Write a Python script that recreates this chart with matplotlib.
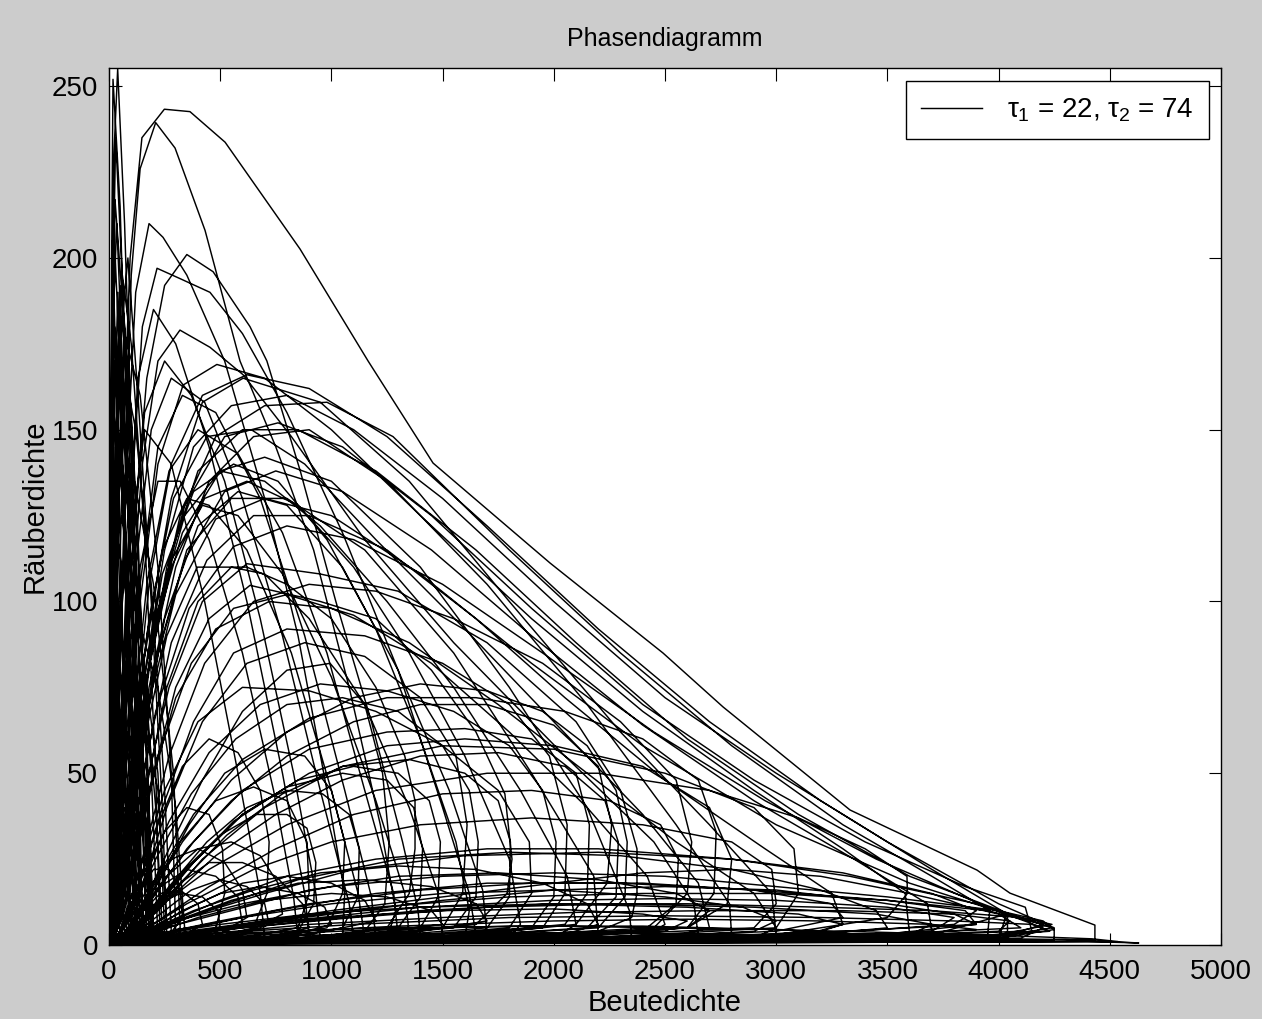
#!/usr/bin/env python3
"""Phasendiagramm: Beutedichte vs. Räuberdichte (tau1 = 22, tau2 = 74)."""
import numpy as np
import matplotlib
matplotlib.use('Agg')
import matplotlib.pyplot as plt

# ── data: loops of the trajectory (x = Beute, y = Räuber) ──
SPIKES = [
    [(5, 0.3), (60, 0.5), (150, 1), (200, 2), (170, 30), (130, 90), (100, 150), (70, 210), (39, 255), (22, 230), (12, 150), (8, 60), (5, 8)],
    [(5, 0.3), (90, 0.6), (150, 1.5), (140, 25), (110, 80), (80, 150), (50, 215), (18, 252), (12, 200), (8, 120), (5, 40), (4, 5)],
    [(5, 0.4), (120, 0.8), (170, 3), (150, 40), (110, 110), (70, 180), (30, 235), (20, 200), (12, 130), (8, 50), (5, 6)],
    [(5, 0.3), (100, 0.5), (180, 2), (160, 45), (120, 110), (80, 170), (27, 217), (18, 170), (10, 90), (6, 20)],
    [(6, 0.4), (150, 0.8), (260, 3), (240, 40), (190, 100), (130, 160), (85, 200), (50, 175), (30, 110), (18, 40), (8, 5)],
    [(5, 0.3), (120, 0.6), (230, 2), (210, 50), (160, 120), (100, 175), (60, 195), (35, 150), (20, 80), (10, 15)],
    [(5, 0.3), (80, 0.6), (150, 2), (140, 40), (100, 110), (45, 185), (30, 140), (15, 60), (7, 8)],
    [(6, 0.5), (180, 1), (300, 4), (280, 50), (220, 110), (140, 160), (70, 178), (45, 130), (25, 60), (10, 10)],
    [(5, 0.3), (70, 0.5), (120, 2), (100, 60), (60, 130), (25, 170), (15, 110), (8, 40), (5, 4)],
    [(5, 0.4), (130, 0.7), (200, 3), (170, 60), (110, 125), (55, 160), (35, 110), (18, 40), (7, 5)],
    [(5, 0.3), (140, 0.6), (220, 2), (190, 50), (120, 110), (40, 150), (28, 100), (15, 35), (6, 4)],
    [(7, 0.5), (200, 1), (320, 5), (290, 50), (200, 105), (100, 140), (60, 100), (30, 40), (10, 5)],
    [(5, 0.3), (50, 0.5), (90, 2), (70, 50), (40, 100), (20, 130), (12, 80), (6, 20)],
    [(5, 0.4), (110, 0.8), (180, 4), (150, 50), (80, 100), (35, 120), (20, 70), (8, 12)],
    [(6, 0.3), (150, 0.7), (250, 4), (220, 50), (130, 95), (60, 110), (35, 70), (15, 20), (6, 3)],
    [(5, 0.3), (40, 0.5), (70, 3), (50, 50), (15, 100), (10, 60), (5, 10)],
    [(6, 0.5), (120, 1), (200, 5), (170, 45), (100, 80), (50, 90), (30, 50), (12, 10)],
    [(7, 0.5), (160, 1), (260, 6), (220, 45), (140, 70), (80, 75), (45, 45), (18, 8)],
    [(5, 0.3), (60, 0.6), (120, 4), (90, 40), (30, 60), (18, 30), (7, 5)],
    [(5, 0.3), (30, 0.5), (50, 2), (35, 30), (20, 45), (10, 20), (5, 3)],
    [(6, 0.4), (100, 0.8), (160, 5), (130, 30), (50, 35), (25, 15), (8, 2)],
    [(5, 0.3), (70, 0.6), (110, 3), (80, 20), (25, 25), (12, 8)],
]

SPIKES_2 = [
    [(4, 0.2), (50, 0.4), (100, 1.5), (90, 30), (60, 90), (35, 160), (15, 205), (8, 150), (5, 70), (3, 10)],
    [(5, 0.3), (90, 0.5), (170, 2), (150, 35), (110, 95), (65, 150), (40, 190), (22, 150), (12, 80), (6, 15)],
    [(5, 0.3), (110, 0.6), (200, 3), (180, 40), (140, 100), (95, 160), (55, 192), (35, 165), (20, 100), (9, 25)],
    [(4, 0.2), (60, 0.4), (130, 2), (115, 40), (80, 110), (45, 165), (25, 180), (15, 120), (7, 40)],
    [(6, 0.4), (170, 0.8), (280, 4), (250, 45), (190, 105), (120, 150), (75, 165), (45, 130), (25, 60), (10, 8)],
    [(5, 0.3), (80, 0.5), (140, 2), (120, 45), (85, 100), (50, 140), (30, 145), (18, 90), (8, 20)],
    [(5, 0.3), (100, 0.6), (190, 3), (160, 40), (110, 90), (60, 125), (35, 118), (20, 60), (8, 10)],
    [(6, 0.4), (140, 0.8), (240, 4), (210, 40), (150, 85), (90, 115), (55, 105), (30, 55), (12, 10)],
    [(4, 0.2), (40, 0.4), (80, 2), (65, 40), (40, 85), (20, 105), (12, 60), (5, 10)],
    [(5, 0.3), (70, 0.5), (130, 3), (110, 35), (70, 70), (40, 85), (22, 55), (9, 12)],
    [(6, 0.4), (200, 1), (340, 5), (300, 40), (220, 75), (130, 95), (70, 85), (35, 40), (12, 6)],
    [(5, 0.3), (110, 0.6), (200, 4), (170, 35), (100, 60), (50, 65), (25, 35), (9, 5)],
    [(4, 0.2), (50, 0.4), (100, 2), (80, 25), (45, 50), (22, 50), (10, 20), (4, 3)],
    [(5, 0.3), (90, 0.6), (160, 4), (130, 25), (70, 40), (35, 35), (14, 10)],
    [(4, 0.2), (30, 0.3), (60, 1.5), (45, 60), (25, 120), (12, 140), (7, 80), (4, 15)],
    [(5, 0.3), (60, 0.5), (110, 2), (95, 50), (70, 120), (45, 175), (28, 200), (15, 170), (8, 90), (4, 15)],
    [(5, 0.3), (75, 0.5), (140, 2.5), (125, 50), (95, 115), (60, 170), (35, 210), (20, 185), (10, 100), (5, 20)],
    [(5, 0.3), (100, 0.6), (190, 3), (170, 50), (130, 120), (90, 165), (55, 182), (32, 150), (18, 80), (7, 12)],
]

ARCHES = [
    [(15, 0.5), (800, 0.8), (2000, 1.0), (3200, 1.2), (4100, 1.5), (4433, 1.5), (4433, 5.8), (4051, 15.1), (3903, 21.8), (3332, 39.3),
     (2761, 69.3), (2491, 85), (1983, 111.2), (1457, 140.3), (1165, 170), (859, 202.6), (522, 233.7), (364, 242.6), (249, 243.3),
     (148, 235), (95, 200), (60, 140), (35, 70), (20, 20), (12, 3)],
    [(15, 0.5), (400, 0.8), (900, 1.2), (1250, 2), (1290, 10), (1220, 35), (1080, 75), (920, 115), (750, 145), (589, 170), (432, 208),
     (297, 232), (210, 239.4), (140, 226), (100, 195), (70, 130), (40, 60), (20, 12)],
    [(12, 0.5), (300, 0.8), (800, 1.5), (1050, 3), (1060, 15), (980, 45), (850, 90), (700, 130), (520, 170), (350, 195), (243, 206),
     (180, 210), (120, 190), (80, 140), (50, 80), (25, 20)],
    [(15, 0.5), (700, 1), (1400, 2), (1390, 10), (1320, 30), (1180, 65), (1020, 100), (860, 138), (710, 170), (634, 180), (468, 196),
     (350, 201), (250, 192), (170, 165), (110, 120), (60, 60), (25, 10)],
    [(15, 0.4), (900, 1), (1650, 3), (1620, 15), (1500, 40), (1300, 80), (1050, 120), (800, 155), (600, 178), (454, 190), (319, 194),
     (216, 197), (150, 180), (100, 130), (60, 70), (28, 15)],
    [(12, 0.5), (1200, 1), (2650, 2.5), (2630, 12), (2450, 30), (2050, 55), (1550, 88), (1150, 118), (820, 148), (603, 166), (454, 174),
     (319, 179), (220, 170), (150, 140), (95, 95), (55, 45), (25, 8)],
    [(15, 0.5), (2000, 1), (4040, 2), (4040, 9), (3700, 22), (3200, 42), (2700, 65), (2200, 92), (1700, 122), (1250, 148), (900, 162),
     (620, 166), (420, 160), (280, 140), (180, 105), (110, 60), (60, 20), (25, 3)],
    [(15, 0.5), (2500, 1), (4250, 1.5), (4250, 5), (4000, 12), (3500, 30), (3000, 50), (2500, 72), (2000, 100), (1500, 130), (1100, 150),
     (800, 160), (550, 157), (380, 145), (250, 115), (150, 75), (80, 35), (30, 5)],
    [(15, 0.5), (1500, 1), (3000, 2), (3600, 3), (3580, 15), (3300, 28), (2900, 45), (2400, 68), (1900, 95), (1400, 125), (1000, 150),
     (700, 165), (485, 169), (333, 163), (220, 140), (140, 100), (80, 55), (35, 12)],
    [(15, 0.4), (2000, 1), (3950, 2), (3960, 10), (3700, 20), (3300, 35), (2800, 58), (2300, 85), (1800, 115), (1277, 148), (980, 158),
     (700, 157), (480, 148), (320, 125), (200, 90), (110, 45), (40, 8)],
    [(12, 0.5), (1600, 1.2), (3000, 3), (2980, 15), (2700, 35), (2300, 62), (1800, 100), (1350, 135), (950, 158), (603, 165), (420, 158),
     (280, 130), (170, 90), (90, 45), (35, 10)],
    [(15, 0.5), (1500, 1), (2800, 2.5), (2790, 12), (2550, 35), (2150, 70), (1700, 105), (1250, 135), (900, 150), (650, 148), (450, 135),
     (300, 110), (180, 75), (90, 35), (30, 5)],
    [(12, 0.4), (1200, 1), (2350, 2), (2340, 10), (2150, 40), (1800, 75), (1400, 110), (1000, 135), (700, 142), (500, 138), (330, 120),
     (200, 90), (110, 50), (40, 10)],
    [(15, 0.5), (1000, 1), (2200, 3), (2180, 20), (1900, 50), (1550, 85), (1150, 115), (800, 130), (550, 130), (350, 115), (220, 85),
     (120, 45), (45, 8)],
    [(12, 0.5), (600, 1), (1100, 2), (1080, 12), (950, 45), (780, 90), (600, 130), (430, 158), (280, 165), (190, 150), (120, 110),
     (70, 60), (30, 12)],
    [(15, 0.4), (700, 1), (1300, 2.5), (1280, 15), (1150, 45), (980, 85), (780, 120), (580, 143), (400, 150), (270, 138), (170, 105),
     (100, 60), (40, 12)],
    [(10, 0.4), (500, 0.8), (900, 2), (880, 15), (780, 50), (620, 100), (450, 145), (300, 175), (200, 185), (130, 165), (80, 110),
     (45, 50), (18, 8)],
    [(12, 0.4), (800, 1), (1500, 3), (1480, 15), (1350, 40), (1150, 70), (900, 95), (700, 108), (550, 110), (400, 100), (260, 75),
     (150, 40), (60, 8)],
    [(10, 0.4), (600, 0.8), (1150, 2), (1120, 15), (1000, 45), (820, 85), (620, 115), (450, 128), (350, 130), (240, 115), (150, 80),
     (80, 35), (30, 5)],
    [(8, 0.3), (400, 0.8), (700, 2), (680, 15), (580, 50), (430, 100), (280, 140), (160, 150), (100, 120), (60, 70), (25, 15)],
]

ARCHES_2 = [
    [(15, 0.5), (1800, 1), (3800, 2), (4150, 4), (4120, 11), (3850, 17), (3400, 30), (2900, 48), (2400, 70), (1900, 98), (1450, 125),
     (1050, 145), (760, 152), (520, 148), (340, 128), (210, 95), (120, 55), (45, 10)],
    [(12, 0.5), (2200, 1.2), (4000, 2.5), (4240, 5), (4050, 9), (3600, 20), (3100, 38), (2600, 60), (2100, 88), (1650, 115), (1200, 138),
     (850, 150), (600, 150), (400, 138), (260, 110), (150, 70), (60, 18)],
    [(15, 0.4), (1700, 1), (3300, 2), (3700, 4), (3680, 12), (3350, 25), (2900, 42), (2400, 64), (1900, 90), (1450, 115), (1050, 132),
     (750, 138), (520, 132), (340, 112), (200, 80), (100, 38), (35, 6)],
    [(15, 0.5), (2000, 1), (4000, 2), (4037, 9), (3600, 18), (3000, 35), (2400, 58), (1900, 82), (1400, 108), (1000, 125), (700, 130),
     (480, 124), (300, 102), (170, 68), (80, 25)],
    [(12, 0.4), (1500, 1), (3100, 2.5), (3300, 6), (3250, 15), (2950, 28), (2500, 48), (2050, 72), (1650, 95), (1250, 115), (900, 125),
     (650, 125), (440, 112), (280, 88), (160, 52), (60, 12)],
    [(15, 0.5), (1000, 1), (2500, 2), (2700, 5), (2650, 18), (2400, 38), (2000, 65), (1600, 92), (1200, 118), (880, 140), (640, 150),
     (440, 148), (290, 130), (180, 95), (95, 50), (35, 8)],
    [(12, 0.4), (900, 1), (2000, 2), (2100, 6), (2060, 20), (1850, 45), (1550, 75), (1250, 100), (950, 122), (700, 135), (500, 138),
     (340, 125), (210, 95), (110, 50), (40, 8)],
    [(15, 0.5), (2200, 1), (4100, 2), (4200, 5), (3950, 11), (3450, 25), (2950, 42), (2450, 62), (1950, 85), (1500, 105), (1100, 118),
     (800, 122), (560, 116), (360, 98), (210, 68), (100, 30), (35, 5)],
    [(12, 0.4), (1500, 1), (2900, 2), (3000, 5), (2900, 15), (2550, 30), (2150, 50), (1750, 70), (1350, 88), (1000, 98), (720, 100),
     (480, 92), (300, 72), (160, 40), (60, 8)],
    [(15, 0.5), (800, 1), (1800, 2), (1850, 6), (1800, 25), (1600, 55), (1350, 85), (1100, 110), (850, 128), (620, 135), (430, 130),
     (280, 110), (170, 78), (85, 38), (30, 5)],
    [(10, 0.4), (700, 0.8), (1600, 2), (1620, 10), (1560, 30), (1400, 60), (1200, 92), (980, 118), (760, 135), (560, 140), (380, 132),
     (240, 108), (140, 70), (60, 25), (20, 3)],
    [(12, 0.4), (1000, 1), (2400, 2), (2500, 6), (2420, 20), (2150, 40), (1800, 62), (1450, 82), (1100, 96), (800, 102), (560, 98),
     (370, 82), (220, 55), (110, 22), (35, 4)],
    [(12, 0.4), (500, 0.8), (950, 2), (930, 15), (830, 50), (680, 95), (520, 135), (370, 160), (250, 170), (160, 155), (100, 110),
     (55, 55), (20, 8)],
    [(10, 0.4), (600, 0.8), (1200, 2), (1180, 14), (1060, 45), (880, 90), (680, 130), (480, 155), (330, 160), (220, 145), (140, 105),
     (75, 50), (25, 6)],
    [(12, 0.4), (700, 1), (1350, 3), (1330, 15), (1200, 42), (1000, 78), (780, 108), (580, 125), (420, 128), (280, 112), (170, 78),
     (85, 35), (30, 5)],
    [(10, 0.3), (450, 0.8), (850, 2), (830, 14), (740, 45), (600, 85), (450, 118), (320, 135), (220, 135), (140, 110), (80, 62), (30, 12)],
    [(12, 0.4), (800, 1), (1700, 3), (1680, 16), (1530, 45), (1300, 80), (1050, 110), (800, 128), (580, 132), (400, 122), (250, 95),
     (140, 55), (50, 10)],
]

HOOKS = [
    [(15, 0.5), (1200, 1.5), (2200, 4), (2350, 8), (2374, 15), (2374, 28), (2300, 45), (2100, 65), (1700, 88), (1300, 103), (950, 108),
     (620, 111), (420, 100), (270, 75), (160, 45), (80, 18), (30, 3)],
    [(12, 0.5), (800, 1.2), (1250, 5), (1350, 15), (1376, 28), (1376, 42), (1330, 55), (1200, 75), (1000, 95), (800, 105), (620, 110),
     (396, 110), (260, 90), (160, 60), (90, 28), (35, 5)],
    [(15, 0.5), (1000, 1.5), (1650, 6), (1790, 15), (1812, 25), (1780, 44), (1650, 62), (1450, 80), (1200, 95), (950, 100), (634, 104.7),
     (450, 95), (300, 75), (180, 45), (90, 15), (30, 3)],
    [(12, 0.5), (1400, 1.5), (2100, 6), (2240, 18), (2260, 35), (2200, 52), (2000, 64), (1700, 70), (1400, 70), (1100, 65), (800, 55),
     (550, 42), (350, 28), (200, 14), (90, 4)],
    [(15, 0.5), (1300, 1.2), (1950, 5), (2050, 15), (2060, 35), (1980, 55), (1800, 70), (1500, 82), (1150, 90), (800, 92), (560, 85),
     (380, 65), (240, 40), (120, 15), (40, 3)],
    [(15, 0.4), (700, 1), (1150, 4), (1240, 12), (1260, 30), (1230, 50), (1150, 70), (994, 82), (800, 80), (600, 68), (420, 48),
     (270, 28), (140, 10), (50, 2)],
    [(12, 0.5), (900, 1.5), (1500, 5), (1590, 15), (1610, 35), (1560, 55), (1400, 72), (1150, 84), (880, 88), (620, 82), (420, 65),
     (260, 40), (140, 15), (50, 3)],
    [(15, 0.5), (1500, 1.5), (2600, 5), (2780, 12), (2800, 25), (2700, 40), (2400, 52), (2000, 58), (1600, 60), (1250, 58), (900, 50),
     (600, 38), (380, 24), (200, 10), (80, 3)],
    [(15, 0.4), (2000, 1.5), (3000, 5), (3100, 15), (3080, 28), (2900, 40), (2500, 50), (2000, 57), (1500, 58), (1050, 52), (700, 40),
     (420, 25), (220, 10), (80, 2)],
    [(12, 0.4), (600, 1), (980, 5), (1050, 15), (1060, 30), (1000, 45), (880, 55), (700, 57), (520, 50), (360, 35), (220, 18), (100, 5)],
    [(15, 0.5), (1100, 1.5), (1800, 5), (1900, 15), (1890, 30), (1750, 45), (1500, 58), (1200, 68), (900, 74), (600, 75), (400, 65),
     (250, 45), (130, 20), (50, 4)],
    [(15, 0.5), (1400, 1.5), (2450, 5), (2600, 15), (2620, 30), (2550, 48), (2300, 65), (1950, 82), (1550, 95), (1200, 103), (900, 105),
     (650, 100), (430, 82), (270, 55), (150, 25), (60, 5)],
    [(10, 0.4), (400, 1), (650, 5), (710, 15), (720, 30), (680, 45), (580, 56), (450, 60), (330, 52), (220, 35), (120, 15), (45, 3)],
    [(10, 0.3), (300, 1), (480, 5), (520, 15), (510, 28), (450, 38), (350, 40), (250, 33), (150, 20), (60, 5)],
    [(10, 0.4), (500, 1), (850, 5), (900, 15), (890, 30), (800, 42), (650, 46), (480, 42), (320, 30), (180, 15), (70, 3)],
    [(15, 0.5), (1400, 2), (2050, 6), (2150, 15), (2160, 35), (2100, 50), (1900, 60), (1600, 63), (1250, 62), (900, 57), (600, 45),
     (380, 30), (200, 15), (80, 4)],
]

HOOKS_2 = [
    [(15, 0.5), (1300, 1.5), (2150, 5), (2280, 14), (2290, 30), (2230, 42), (2050, 52), (1750, 56), (1400, 55), (1050, 48), (750, 38),
     (480, 26), (280, 14), (120, 4)],
    [(12, 0.5), (1000, 1.5), (1700, 5), (1800, 14), (1805, 30), (1750, 42), (1600, 50), (1350, 54), (1050, 52), (780, 44), (530, 32),
     (320, 18), (150, 6)],
    [(15, 0.5), (1500, 1.5), (2400, 4), (2550, 12), (2560, 25), (2480, 35), (2250, 42), (1900, 45), (1500, 44), (1100, 38), (750, 28),
     (450, 17), (220, 7), (80, 2)],
    [(12, 0.5), (900, 1.2), (1400, 5), (1480, 14), (1490, 30), (1440, 42), (1300, 50), (1100, 52), (850, 48), (600, 38), (380, 24),
     (200, 11), (80, 3)],
    [(15, 0.5), (1700, 1.5), (2900, 5), (3000, 12), (2980, 22), (2800, 30), (2400, 35), (1900, 37), (1400, 35), (1000, 30), (650, 22),
     (350, 12), (150, 4)],
    [(12, 0.4), (700, 1), (1050, 5), (1120, 14), (1125, 28), (1080, 38), (960, 44), (800, 45), (620, 40), (440, 30), (270, 17), (130, 6)],
    [(15, 0.5), (1600, 1.5), (2600, 5), (2720, 15), (2730, 33), (2650, 48), (2400, 60), (2050, 68), (1650, 72), (1250, 72), (900, 66),
     (600, 54), (380, 38), (200, 18), (80, 4)],
    [(12, 0.5), (1100, 1.5), (1900, 5), (2000, 14), (2010, 30), (1950, 45), (1800, 58), (1550, 68), (1250, 74), (950, 76), (680, 70),
     (450, 56), (270, 36), (130, 15), (45, 3)],
    [(15, 0.5), (800, 1.2), (1300, 5), (1400, 14), (1410, 28), (1370, 40), (1250, 48), (1050, 50), (800, 46), (560, 36), (350, 22),
     (180, 9), (60, 2)],
    [(12, 0.5), (1300, 1.5), (2200, 5), (2320, 14), (2330, 30), (2280, 45), (2150, 58), (1950, 68), (1700, 74), (1400, 76), (1100, 72),
     (800, 62), (550, 48), (330, 30), (160, 12), (55, 2)],
    [(15, 0.5), (600, 1), (850, 4), (920, 12), (930, 24), (890, 34), (800, 38), (660, 38), (500, 32), (340, 22), (190, 10), (70, 2)],
    [(12, 0.4), (900, 1.2), (1550, 5), (1650, 14), (1660, 30), (1620, 45), (1500, 58), (1300, 68), (1050, 72), (800, 70), (570, 60),
     (370, 44), (210, 25), (90, 8)],
]

FLAT_LOOPS = [
    [(15, 0.5), (1500, 0.8), (3000, 1.2), (4000, 2), (4250, 4.5), (4200, 7), (4000, 10), (3500, 14), (3000, 17), (2500, 20), (2000, 21),
     (1500, 20), (1000, 17), (600, 12), (300, 7), (120, 3), (40, 1)],
    [(15, 0.5), (1200, 1), (2500, 2), (3600, 3.5), (4100, 5), (4000, 9), (3600, 15), (3200, 20), (2800, 22), (2400, 21), (2000, 18),
     (1500, 14), (1000, 10), (600, 6), (300, 3), (100, 1)],
    [(12, 0.4), (2000, 1.2), (3700, 3), (4037, 9), (3900, 12), (3332, 20), (2800, 25), (2200, 28), (1700, 28), (1200, 25), (800, 20),
     (500, 13), (250, 6), (80, 2)],
    [(15, 0.5), (1800, 1), (3400, 2.5), (3900, 6), (3850, 10), (3500, 13), (3000, 15), (2400, 15), (1800, 14), (1200, 11), (700, 7),
     (350, 4), (120, 1.5)],
    [(15, 0.4), (1500, 1), (3000, 3), (3500, 8), (3590, 15), (3588, 20), (3400, 28), (3100, 37), (2700, 45), (2200, 50), (1700, 50),
     (1200, 45), (800, 35), (450, 22), (200, 10), (60, 2)],
    [(12, 0.5), (1000, 1), (2200, 2), (3000, 4), (3300, 8), (3250, 12), (2900, 16), (2400, 18), (1900, 18), (1400, 16), (900, 12),
     (500, 7), (200, 3), (60, 1)],
    [(15, 0.5), (2200, 1.2), (4000, 3), (4240, 6), (4100, 8), (3700, 10), (3200, 11), (2600, 12), (2000, 12), (1400, 10), (900, 7),
     (450, 4), (150, 1.5)],
    [(15, 0.4), (1500, 0.8), (2800, 1.5), (3700, 4), (3800, 8), (3500, 11), (3000, 13), (2500, 13.5), (2000, 13), (1400, 11), (800, 7),
     (400, 4), (120, 1)],
    [(15, 0.3), (2000, 0.5), (3500, 0.8), (4537, 1), (4420, 1.8), (4000, 2.8), (3000, 4.5), (2000, 5.5), (1200, 5), (600, 3.5),
     (200, 1.5), (50, 0.5)],
    [(10, 0.3), (1000, 0.5), (2500, 0.8), (4100, 1.2), (4000, 2), (3000, 3), (2000, 3.5), (1000, 3), (400, 2), (100, 0.8)],
    [(12, 0.4), (1200, 1), (2600, 2), (3200, 4), (3300, 6), (3100, 9), (2600, 11), (2000, 12), (1400, 11), (900, 9), (500, 6),
     (200, 3), (60, 1)],
    [(10, 0.4), (800, 1), (1800, 2), (2500, 4), (2600, 7), (2400, 9), (2000, 10.5), (1500, 10), (1000, 8), (500, 5), (200, 2), (50, 0.8)],
    [(15, 0.5), (1500, 1.5), (3000, 3), (3900, 6), (3800, 9), (3400, 13), (3000, 16), (2500, 17), (2000, 16), (1500, 13), (1000, 9),
     (500, 5), (150, 1.5)],
]

FLAT_LOOPS_2 = [
    [(15, 0.5), (1700, 1), (3300, 2), (4100, 4), (4200, 6), (3950, 10), (3500, 13), (2900, 16), (2300, 18), (1700, 18), (1200, 15),
     (750, 10), (380, 5), (130, 1.5)],
    [(12, 0.4), (1400, 0.8), (2700, 1.5), (3600, 3), (3700, 6), (3450, 9), (2900, 11), (2300, 12), (1700, 11), (1100, 8), (600, 5),
     (250, 2), (60, 0.6)],
    [(15, 0.5), (2000, 1), (3800, 2), (4230, 4), (4150, 6), (3800, 7), (3200, 8), (2500, 8.5), (1800, 8), (1100, 6), (500, 3.5), (150, 1.2)],
    [(12, 0.4), (1100, 1), (2300, 2), (2900, 4), (3000, 7), (2850, 11), (2500, 14), (2000, 16), (1500, 15), (1000, 12), (600, 8),
     (280, 4), (80, 1)],
    [(15, 0.5), (1600, 1.2), (3000, 2.5), (3800, 6), (3900, 10), (3700, 15), (3300, 21), (2800, 25), (2200, 27), (1600, 26), (1100, 22),
     (700, 15), (350, 8), (120, 2)],
    [(12, 0.4), (1000, 1), (2000, 2), (2600, 5), (2700, 10), (2550, 15), (2200, 19), (1750, 21), (1300, 20), (900, 16), (550, 10),
     (250, 5), (70, 1)],
    [(15, 0.5), (1800, 1), (3200, 2), (4000, 4), (4050, 7), (3800, 9), (3300, 10), (2700, 10), (2100, 9.5), (1500, 8), (900, 6),
     (400, 3), (100, 1)],
    [(10, 0.3), (1200, 0.6), (2400, 1), (3300, 1.8), (3400, 3), (3000, 4.5), (2400, 5.5), (1800, 5.5), (1200, 4.5), (700, 3), (250, 1.2)],
    [(12, 0.4), (1300, 0.8), (2600, 1.5), (3500, 3), (3900, 4.5), (3700, 6), (3200, 7), (2600, 7.5), (2000, 7), (1300, 5.5), (700, 3.5),
     (250, 1.5)],
    [(15, 0.5), (1000, 1), (2000, 2.2), (2200, 6), (2150, 12), (1950, 18), (1650, 22), (1300, 23), (950, 21), (650, 16), (380, 10),
     (170, 4), (50, 1)],
    [(12, 0.4), (1500, 1), (3000, 2), (3500, 5), (3450, 10), (3200, 16), (2800, 22), (2300, 26), (1800, 27), (1300, 25), (850, 19),
     (480, 11), (200, 4)],
    [(10, 0.3), (2500, 0.6), (4400, 1), (4630, 0.6), (4300, 1.6), (3500, 2.2), (2500, 2.6), (1500, 2.4), (700, 1.6), (200, 0.7)],
]

SMALL_LOOPS = [
    [(10, 0.3), (300, 0.8), (700, 2), (900, 5), (870, 12), (750, 20), (600, 24), (450, 24), (320, 18), (200, 10), (90, 3)],
    [(10, 0.3), (200, 0.6), (450, 2), (600, 6), (580, 14), (480, 20), (350, 22), (230, 17), (130, 8), (50, 2)],
    [(10, 0.3), (400, 1), (900, 3), (1200, 7), (1150, 13), (1000, 18), (800, 20), (600, 18), (400, 12), (220, 6), (80, 1.5)],
    [(8, 0.3), (150, 0.6), (320, 2), (420, 6), (400, 12), (320, 16), (230, 15), (140, 9), (60, 3)],
    [(10, 0.3), (500, 1), (1100, 3), (1500, 6), (1450, 10), (1250, 14), (1000, 15), (700, 13), (400, 8), (180, 3)],
    [(8, 0.3), (250, 0.7), (550, 2), (720, 6), (700, 12), (620, 17), (500, 19), (370, 16), (250, 10), (130, 4), (40, 1)],
    [(10, 0.3), (350, 0.8), (800, 2.5), (1000, 6), (970, 11), (850, 15), (680, 17), (500, 15), (330, 10), (180, 4), (60, 1)],
    [(8, 0.3), (180, 0.6), (380, 2), (500, 5), (490, 10), (420, 14), (320, 15), (220, 12), (120, 6), (40, 1.5)],
    [(10, 0.3), (600, 1), (1300, 3), (1700, 7), (1650, 12), (1450, 17), (1150, 19), (850, 18), (550, 13), (300, 7), (120, 2)],
    [(8, 0.3), (130, 0.5), (260, 2), (330, 8), (320, 16), (270, 22), (200, 22), (130, 15), (60, 5)],
    [(10, 0.3), (280, 0.8), (600, 3), (780, 9), (760, 18), (680, 26), (550, 30), (400, 28), (260, 20), (140, 9), (50, 2)],
    [(8, 0.3), (220, 0.7), (480, 2.5), (620, 8), (600, 16), (520, 24), (400, 28), (280, 25), (170, 16), (80, 6), (25, 1)],
]

LEGEND_LABEL = r'$\tau_1$ = 22, $\tau_2$ = 74'

# ── assemble one continuous trajectory ─────────────────────────────────────────
loops = (SPIKES[:8] + ARCHES[:10] + SMALL_LOOPS[:6] + HOOKS[:8] + SPIKES_2[:9] + FLAT_LOOPS
         + ARCHES_2[:9] + SPIKES[8:] + HOOKS_2 + ARCHES[10:] + FLAT_LOOPS_2 + SPIKES_2[9:]
         + HOOKS[8:] + ARCHES_2[9:] + SMALL_LOOPS[6:])
traj = np.array([pt for loop in loops for pt in loop], dtype=float)

plt.rcParams['font.family'] = ['Liberation Sans', 'DejaVu Sans']
plt.rcParams['mathtext.fontset'] = 'custom'
plt.rcParams['mathtext.rm'] = 'Liberation Sans'
plt.rcParams['mathtext.it'] = 'Liberation Sans'

fig = plt.figure(figsize=(12.62, 10.19), dpi=100, facecolor='#cccccc')
ax = fig.add_axes([109 / 1262, 74 / 1019, 1112 / 1262, 877 / 1019])
ax.plot(traj[:, 0], traj[:, 1], color='black', linewidth=1.05, label=LEGEND_LABEL)

ax.set_xlim(0, 5000)
ax.set_ylim(0, 255.3)
ax.set_xticks(np.arange(0, 5001, 500))
ax.set_yticks(np.arange(0, 251, 50))
ax.tick_params(direction='in', length=9, width=0.8, top=True, right=True,
               labelsize=20, pad=10)
ax.tick_params(axis='y', pad=8)
for sp in ax.spines.values():
    sp.set_linewidth(1.0)

ax.set_title('Phasendiagramm', fontsize=18, pad=16)
ax.set_xlabel('Beutedichte', fontsize=21, labelpad=3)
ax.set_ylabel('Räuberdichte', fontsize=21, labelpad=2)

leg = ax.legend(loc='upper right', bbox_to_anchor=(0.9892, 0.9852), borderaxespad=0,
                fontsize=20, handlelength=2.2, handletextpad=0.9, fancybox=False,
                framealpha=1, edgecolor='black', borderpad=0.55)
leg.get_frame().set_linewidth(1.0)

plt.savefig('out.png', dpi=100, facecolor=fig.get_facecolor())
